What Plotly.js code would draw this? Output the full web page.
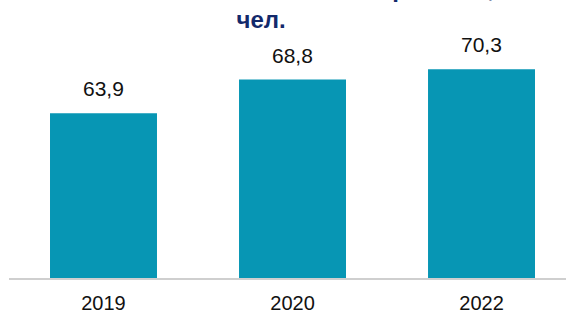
<!DOCTYPE html>
<html>
<head>
<meta charset="utf-8">
<script src="https://cdn.plot.ly/plotly-3.0.1.min.js"></script>
<style>html,body{margin:0;padding:0;background:#fff;}#chart{width:566px;height:314px;}</style>
</head>
<body>
<div id="chart"></div>
<script>
const years = ["2019", "2020", "2022"];
const values = [63.9, 68.8, 70.3];
const valueLabels = ["63,9", "68,8", "70,3"];
const titleLine1 = "Численность занятых в экономике региона, тыс.";
const titleLine2 = "чел.";

const trace = {
  type: "bar",
  x: years,
  y: values,
  marker: {color: "#0796B4", line: {width: 0}},
  width: 0.566,
  hoverinfo: "none"
};

const annotations = years.map((yr, i) => ({
  x: i, y: values[i], xref: "x", yref: "y",
  text: valueLabels[i], showarrow: false,
  xanchor: "center", yanchor: "bottom", yshift: 11,
  font: {family: "Liberation Sans, Arial, sans-serif", size: 21, color: "#111"}
}));
annotations.push({
  xref: "paper", yref: "paper", x: 0.4524, y: 0.874,
  xanchor: "center", yanchor: "bottom", showarrow: false,
  text: "<b>" + titleLine1 + "</b><br><b>" + titleLine2 + "</b>",
  font: {family: "Liberation Sans, Arial, sans-serif", size: 24, color: "#13296B"}
});

const layout = {
  width: 566, height: 314,
  margin: {l: 9, r: 0, t: 0, b: 36},
  paper_bgcolor: "#fff", plot_bgcolor: "#fff",
  showlegend: false,
  xaxis: {
    type: "category", range: [-0.5, 2.447],
    showline: true, linecolor: "#CFCFCF", linewidth: 2,
    showgrid: false, zeroline: false,
    ticks: "outside", ticklen: 6, tickcolor: "rgba(0,0,0,0)",
    tickfont: {family: "Liberation Sans, Arial, sans-serif", size: 20, color: "#111"}
  },
  yaxis: {
    range: [39.94, 80.38], showgrid: false, zeroline: false,
    showline: false, showticklabels: false, ticks: ""
  },
  annotations: annotations
};

Plotly.newPlot("chart", [trace], layout, {displayModeBar: false, staticPlot: true});
</script>
</body>
</html>
